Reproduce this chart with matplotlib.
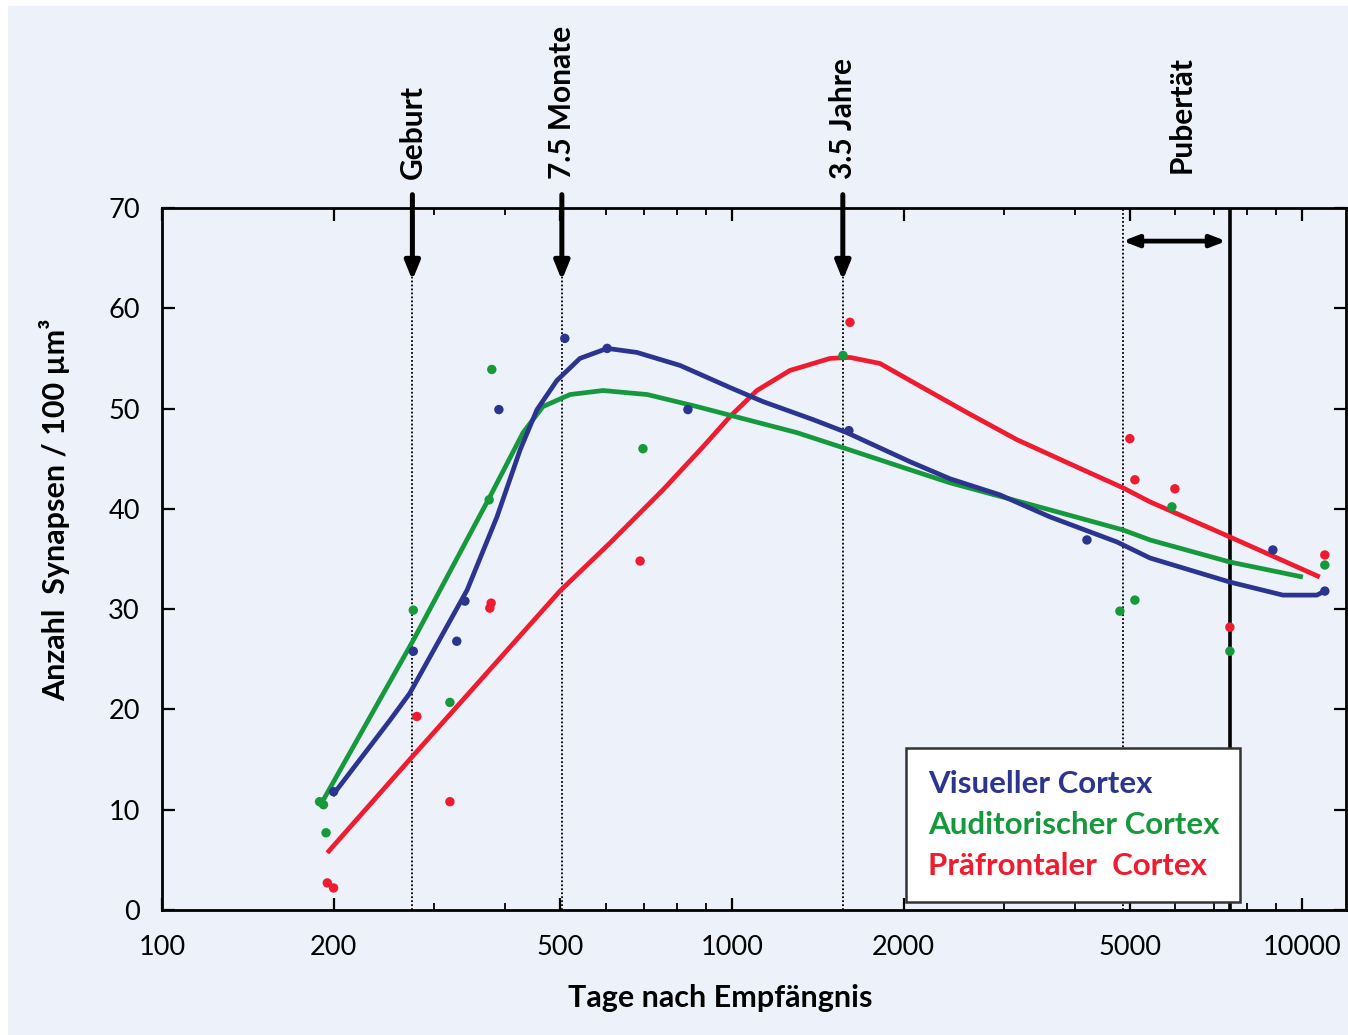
import matplotlib
matplotlib.use("Agg")
import matplotlib.pyplot as plt
from matplotlib.patches import Rectangle
from matplotlib.ticker import FixedLocator, LogLocator, NullFormatter, FixedFormatter

plt.rcParams['font.family'] = ['Lato', 'DejaVu Sans']

# ---------------- data ----------------
# scatter points (days after conception, synapses / 100 um^3)
vis_x = [200, 276, 329, 340, 390, 509, 604, 837, 1604, 4196, 8894, 10970]
vis_y = [11.8, 25.8, 26.8, 30.8, 49.9, 57.0, 56.0, 49.9, 47.8, 36.9, 35.9, 31.8]

aud_x = [189, 192, 194, 276, 320, 375, 379, 698, 1566, 4794, 5093, 5915, 7475, 10970]
aud_y = [10.8, 10.5, 7.7, 29.9, 20.7, 40.9, 53.9, 46.0, 55.3, 29.8, 30.9, 40.2, 25.8, 34.4]

pre_x = [195, 200, 280, 320, 376, 378, 690, 1611, 4990, 5093, 5986, 7475, 10970]
pre_y = [2.7, 2.2, 19.3, 10.8, 30.1, 30.6, 34.8, 58.6, 47.0, 42.9, 42.0, 28.2, 35.4]

# fitted curves
vis_cx = [199, 251, 272, 343, 387, 425, 455, 493, 541, 604, 681, 811, 992, 1133,
          1388, 1591, 2053, 2413, 2951, 3614, 4736, 5413, 7475, 9260, 10620, 11060]
vis_cy = [11.4, 18.9, 21.6, 31.9, 39.2, 45.9, 49.9, 52.8, 55.0, 56.0, 55.6, 54.3, 52.1, 50.7,
          48.9, 47.6, 44.7, 43.0, 41.4, 39.2, 36.7, 35.1, 32.7, 31.4, 31.4, 31.9]

aud_cx = [192, 276, 376, 430, 466, 520, 594, 710, 868, 1062, 1300, 1566,
          2053, 2413, 3614, 4853, 5413, 7475, 10040]
aud_cy = [11.0, 26.9, 41.2, 47.6, 50.2, 51.4, 51.8, 51.4, 50.2, 48.9, 47.6, 46.1,
          43.9, 42.6, 39.9, 37.9, 36.9, 34.7, 33.2]

pre_cx = [195, 272, 499, 611, 757, 890, 992, 1106, 1264, 1486, 1611, 1818, 2053, 2585,
          3162, 4128, 4853, 5413, 7475, 10750]
pre_cy = [5.7, 15.0, 31.8, 36.6, 41.9, 46.2, 49.2, 51.8, 53.8, 55.0, 55.1, 54.5, 52.8, 49.6,
          46.9, 43.9, 42.1, 40.7, 37.2, 33.2]

events_x = [275, 503, 1565]
events_lab = ["Geburt", "7.5 Monate", "3.5 Jahre"]
pub_start, pub_end = 4850, 7475
pub_lab = "Pubertät"

xtick_vals = [100, 200, 500, 1000, 2000, 5000, 10000]
xtick_labs = ["100", "200", "500", "1000", "2000", "5000", "10000"]
ytick_vals = [0, 10, 20, 30, 40, 50, 60, 70]

series_names = ["Visueller Cortex", "Auditorischer Cortex", "Präfrontaler  Cortex"]

# ---------------- style ----------------
c_vis = "#2b3590"
c_aud = "#16993c"
c_pre = "#ee1c2e"
bg = "#ecf1fa"

fig = plt.figure(figsize=(13.48, 10.35), dpi=100)
fig.patch.set_facecolor("white")
fig.patches.append(Rectangle((8 / 1348, 0.0), 1.0, 1 - 6 / 1035, transform=fig.transFigure,
                             facecolor=bg, edgecolor="none", zorder=-10))

ax = fig.add_axes([162 / 1348, 1 - 910 / 1035, (1346 - 162) / 1348, (910 - 208) / 1035])
ax.set_facecolor(bg)
ax.set_xscale("log")
ax.set_xlim(100, 11950)
ax.set_ylim(0, 70)

# vertical event lines
for ex in events_x:
    ax.axvline(ex, color="black", lw=1.3, ls=(0, (1, 1.2)), zorder=1)
ax.axvline(pub_start, color="black", lw=1.3, ls=(0, (1, 1.2)), zorder=1)
ax.axvline(pub_end, color="black", lw=2.6, ls="-", zorder=1)

# curves
for cx, cy, col, z in ((pre_cx, pre_cy, c_pre, 3), (aud_cx, aud_cy, c_aud, 3),
                       (vis_cx, vis_cy, c_vis, 4)):
    ax.plot(cx, cy, color=col, lw=3.4, solid_capstyle="butt",
            solid_joinstyle="round", zorder=z)

# points
ax.scatter(aud_x, aud_y, s=46, color=c_aud, zorder=5, edgecolors="none")
ax.scatter(pre_x, pre_y, s=46, color=c_pre, zorder=5, edgecolors="none")
ax.scatter(vis_x, vis_y, s=46, color=c_vis, zorder=5, edgecolors="none")

# arrows and labels on top
for ex, lab in zip(events_x, events_lab):
    ax.annotate("", xy=(ex, 62.8), xycoords="data",
                xytext=(ex, 1.019), textcoords=("data", "axes fraction"),
                arrowprops=dict(arrowstyle="-|>,head_length=1.1,head_width=0.45",
                                color="black", lw=3.6, shrinkA=0, shrinkB=0),
                annotation_clip=False, zorder=6)
    ax.text(ex, 1.042, lab, transform=ax.get_xaxis_transform(), rotation=90,
            ha="center", va="bottom", fontsize=21.5, fontweight="bold", color="black")

ax.annotate("", xy=(pub_start, 66.7), xytext=(pub_end * 0.985, 66.7),
            arrowprops=dict(arrowstyle="<|-|>,head_length=0.9,head_width=0.35",
                            color="black", lw=3.4, shrinkA=0, shrinkB=0), zorder=6)
ax.text((pub_start * pub_end) ** 0.5 * 1.02, 1.05, pub_lab, transform=ax.get_xaxis_transform(),
        rotation=90, ha="center", va="bottom", fontsize=21.5, fontweight="bold", color="black")

# ticks
ax.xaxis.set_major_locator(FixedLocator(xtick_vals))
ax.xaxis.set_major_formatter(FixedFormatter(xtick_labs))
ax.xaxis.set_minor_locator(LogLocator(base=10, subs=[2, 3, 4, 5, 6, 7, 8, 9], numticks=20))
ax.xaxis.set_minor_formatter(NullFormatter())
ax.set_yticks(ytick_vals)
ax.tick_params(which="major", direction="in", length=9, width=1.6, top=True, right=True,
               labelsize=19.5, colors="black")
ax.tick_params(which="minor", direction="in", length=5, width=1.3, top=True, right=True)
ax.tick_params(axis="x", which="major", pad=18)
ax.tick_params(axis="y", which="major", pad=16)
for sp in ax.spines.values():
    sp.set_linewidth(2.0)

ax.set_xlabel("Tage nach Empfängnis", fontsize=22, fontweight="bold", labelpad=16)
ax.xaxis.set_label_coords((720 - 162) / (1346 - 162), -(998 - 910) / 702)
ax.xaxis.label.set_va("center")
ax.set_ylabel("Anzahl  Synapsen / 100 µm³", fontsize=22, fontweight="bold")
ax.yaxis.set_label_coords(-(162 - 55) / (1346 - 162), (910 - 510) / 702)
ax.yaxis.label.set_va("center")

# legend box (text only, coloured)
handles = [plt.Line2D([], [], color=c, lw=0) for c in (c_vis, c_aud, c_pre)]
leg = ax.legend(handles, series_names, loc="lower left",
                bbox_to_anchor=((906 - 162) / 1184, 8 / 702, (1240 - 906) / 1184, 0.2),
                mode="expand", borderaxespad=0,
                handlelength=0, handletextpad=0, borderpad=0.7, labelspacing=0.42,
                frameon=True, fancybox=False, framealpha=1,
                edgecolor="#333333", facecolor="white", labelcolor=[c_vis, c_aud, c_pre],
                prop={"weight": "bold", "size": 22.5})
leg.get_frame().set_linewidth(1.8)
leg.set_zorder(7)

fig.savefig("out.png", dpi=100, facecolor=fig.get_facecolor())
